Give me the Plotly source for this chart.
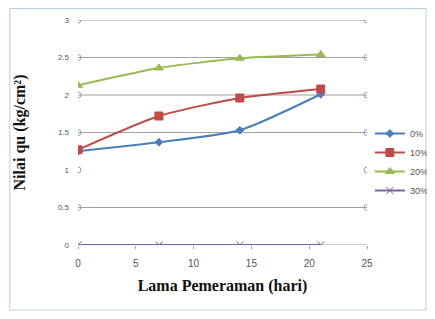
import plotly.graph_objects as go

days = [0, 7, 14, 21]
series_names = ["0%", "10%", "20%", "30%"]
qu_0 = [1.25, 1.37, 1.53, 2.01]
qu_10 = [1.27, 1.72, 1.96, 2.08]
qu_20 = [2.13, 2.36, 2.49, 2.54]
qu_30 = [0.0, 0.0, 0.0, 0.0]
grid_values = [0, 0.5, 1.5, 2, 2.5, 3]
y_ticks = [0, 0.5, 1, 1.5, 2, 2.5, 3]
y_tick_text = ["0", "0.5", "1", "1.5", "2", "2.5", "3"]
x_ticks = [0, 5, 10, 15, 20, 25]

colors = ["#4a7ebb", "#be4b48", "#98b954", "#7d60a0"]
symbols = ["diamond", "square", "triangle-up", "x-thin-open"]
sizes = [6, 8, 8, 7]

fig = go.Figure()

for name, vals, c, s, sz in zip(series_names, [qu_0, qu_10, qu_20, qu_30], colors, symbols, sizes):
    fig.add_trace(go.Scatter(x=days, y=vals, mode="lines+markers", name=name,
                             line=dict(color=c, width=2, shape="spline", smoothing=0.6),
                             marker=dict(symbol=s, size=sz, color=c,
                                         line=dict(color=c, width=1))))

# grid lines (the reference omits the one at 1)
for g in grid_values:
    fig.add_shape(type="line", xref="x", yref="y", x0=0, x1=25, y0=g, y1=g,
                  line=dict(color="#a0a0a0", width=1), layer="below")
# small open circles at the ends of each y level
fig.add_trace(go.Scatter(x=[0] * len(y_ticks[1:]) + [25] * len(y_ticks[1:]),
                         y=y_ticks[1:] + y_ticks[1:], mode="markers",
                         marker=dict(symbol="circle-open", size=6, color="#7fa3c8", line=dict(width=1)),
                         showlegend=False, hoverinfo="skip"))

fig.update_xaxes(range=[0, 25], tickvals=x_ticks, showgrid=False, zeroline=False,
                 showline=False, ticks="outside", ticklen=3, tickcolor="#a0a0a0",
                 ticklabelstandoff=6, automargin=False,
                 tickfont=dict(family="Liberation Sans", size=10, color="#555555"),
                 title=dict(text="<b>Lama Pemeraman (hari)</b>",
                            font=dict(family="Liberation Serif", size=16, color="#111111"), standoff=11))
fig.update_yaxes(range=[0, 3], tickvals=y_ticks, ticktext=y_tick_text,
                 showgrid=False, zeroline=False, showline=False, ticks="",
                 ticklabelstandoff=8, automargin=False,
                 tickfont=dict(family="Liberation Sans", size=8, color="#555555"),
                 title=dict(text="<b>Nilai qu (kg/cm²)</b>",
                            font=dict(family="Liberation Serif", size=16, color="#111111"), standoff=28))

fig.update_layout(
    width=419, height=303,
    margin=dict(l=70, r=60, t=12, b=66, autoexpand=False),
    paper_bgcolor="white", plot_bgcolor="white",
    showlegend=True,
    legend=dict(x=1.01, y=0.56, xanchor="left", yanchor="top",
                font=dict(family="Liberation Sans", size=9, color="#555555"),
                itemwidth=30, bgcolor="rgba(0,0,0,0)"),
)
fig.add_shape(type="rect", xref="paper", yref="paper",
              x0=-0.236, x1=1.204, y0=-0.289, y1=1.051,
              line=dict(color="#b8cde0", width=1))

fig.write_html("out.html")
